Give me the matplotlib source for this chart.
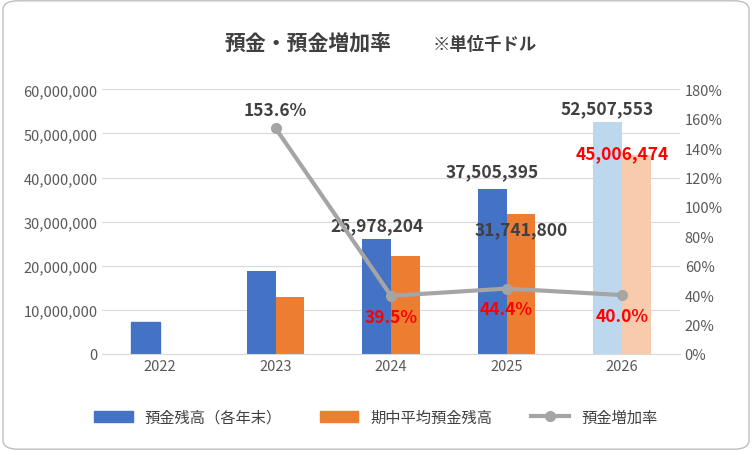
import numpy as np
import matplotlib.pyplot as plt
from matplotlib.patches import FancyBboxPatch

plt.rcParams['font.family'] = ['Noto Sans CJK JP', 'DejaVu Sans']

years = ['2022', '2023', '2024', '2025', '2026']
deposits = [7300000, 18700000, 25978204, 37505395, 52507553]
averages = [np.nan, 13000000, 22300000, 31741800, 45006474]
rates = [np.nan, 153.6, 39.5, 44.4, 40.0]

blue = ['#4472C4'] * 4 + ['#BDD7EE']
orange = ['#ED7D31'] * 4 + ['#F8CBAD']

fig = plt.figure(figsize=(7.52, 4.52), dpi=100)
fig.patches.append(FancyBboxPatch((0.004, 0.004), 0.992, 0.992, boxstyle='round,pad=0,rounding_size=0.02',
                                  transform=fig.transFigure, fill=False, ec='#BFBFBF', lw=1))
ax = fig.add_axes([0.136, 0.215, 0.768, 0.585])
x = np.arange(len(years))
w = 0.25
ax.bar(x - w / 2, deposits, width=w, color=blue, label='預金残高（各年末）')
ax.bar(x + w / 2, averages, width=w, color=orange, label='期中平均預金残高')
ax.set_ylim(0, 60000000)
ax.set_yticks(np.arange(0, 60000001, 10000000))
ax.yaxis.set_major_formatter(plt.FuncFormatter(lambda v, p: f'{int(v):,}'))
ax.set_xticks(x, years)
ax.set_xlim(-0.5, 4.5)
ax.grid(axis='y', color='#D9D9D9', lw=0.8)
ax.set_axisbelow(True)
for s in ['top', 'left', 'right']:
    ax.spines[s].set_visible(False)
ax.spines['bottom'].set_color('#D9D9D9')
ax.tick_params(length=0, colors='#595959', labelsize=10.5)

ax2 = ax.twinx()
ax2.plot(x, rates, color='#A5A5A5', lw=3, marker='o', ms=7, label='預金増加率')
ax2.set_ylim(0, 180)
ax2.set_yticks(np.arange(0, 181, 20))
ax2.yaxis.set_major_formatter(plt.FuncFormatter(lambda v, p: f'{int(v)}%'))
for s in ax2.spines.values():
    s.set_visible(False)
ax2.tick_params(length=0, colors='#595959', labelsize=10.5)

dark = '#404040'
fs = 12.5
ax.text(2 - w / 2, deposits[2] + 1200000, f'{deposits[2]:,}', ha='center', va='bottom', color=dark, fontsize=fs, weight='bold')
ax.text(3 - w / 2, deposits[3] + 2000000, f'{deposits[3]:,}', ha='center', va='bottom', color=dark, fontsize=fs, weight='bold')
ax.text(4 - w / 2, deposits[4] + 1200000, f'{deposits[4]:,}', ha='center', va='bottom', color=dark, fontsize=fs, weight='bold')
ax.text(3 + w / 2, averages[3] - 3500000, f'{averages[3]:,}', ha='center', va='center', color=dark, fontsize=fs, weight='bold')
ax.text(4, averages[4] + 500000, f'{averages[4]:,}', ha='center', va='center', color='#FF0000', fontsize=fs, weight='bold')
ax2.text(1, rates[1] + 6, '153.6%', ha='center', va='bottom', color=dark, fontsize=fs, weight='bold')
for i in [2, 3, 4]:
    ax2.text(i, rates[i] - 8, f'{rates[i]:.1f}%', ha='center', va='top', color='#FF0000', fontsize=fs, weight='bold')

fig.text(0.41, 0.905, '預金・預金増加率', ha='center', va='center', fontsize=15, weight='bold', color='#404040')
fig.text(0.575, 0.9, '※単位千ドル', ha='left', va='center', fontsize=12.5, weight='bold', color='#404040')

h1, l1 = ax.get_legend_handles_labels()
h2, l2 = ax2.get_legend_handles_labels()
h1[0].patches[0].set_color('#4472C4')
h1[1].patches[0].set_color('#ED7D31')
fig.legend(h1 + h2, l1 + l2, loc='center', bbox_to_anchor=(0.5, 0.075), ncol=3, frameon=False,
           fontsize=11, labelcolor='#404040', handlelength=2.5, columnspacing=2.5)
fig.savefig('out.png')
